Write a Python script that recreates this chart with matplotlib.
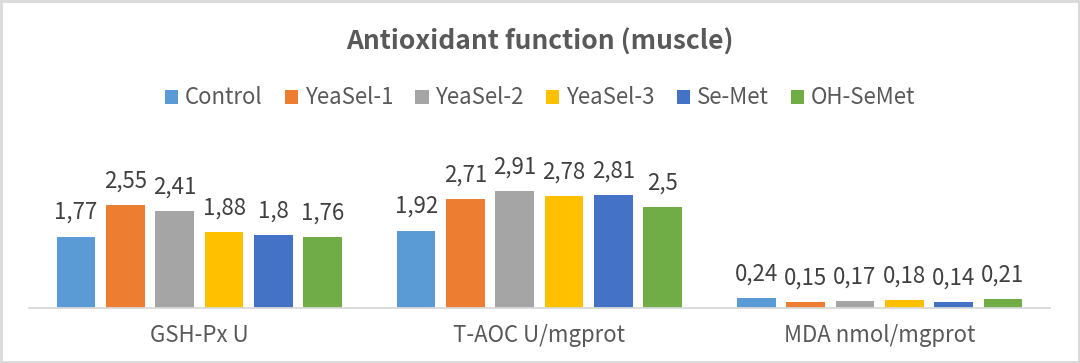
import matplotlib
matplotlib.use("Agg")
import matplotlib.pyplot as plt
from matplotlib.patches import Patch, Rectangle
import numpy as np

plt.rcParams['font.family'] = ['Noto Sans CJK SC', 'DejaVu Sans']

categories = ["GSH-Px U", "T-AOC U/mgprot", "MDA nmol/mgprot"]
groups = ["Control", "YeaSel-1", "YeaSel-2", "YeaSel-3", "Se-Met", "OH-SeMet"]
control = [1.77, 1.92, 0.24]
yeasel_1 = [2.55, 2.71, 0.15]
yeasel_2 = [2.41, 2.91, 0.17]
yeasel_3 = [1.88, 2.78, 0.18]
se_met = [1.80, 2.81, 0.14]
oh_semet = [1.76, 2.50, 0.21]
series = [control, yeasel_1, yeasel_2, yeasel_3, se_met, oh_semet]
colors = ["#5B9BD5", "#ED7D31", "#A5A5A5", "#FFC000", "#4472C4", "#70AD47"]

text_col = "#595959"
W, H = 1080, 363

fig = plt.figure(figsize=(W / 100, H / 100), dpi=100)
ax = fig.add_axes([29.3 / W, 1 - 307.7 / H, 1020.3 / W, (307.7 - 167) / H])

x = np.arange(len(categories))
step = 0.145
width = 0.1135
for i, (vals, c) in enumerate(zip(series, colors)):
    pos = x + (i - 2.5) * step
    bars = ax.bar(pos, vals, width=width, color=c, label=groups[i])
    ax.bar_label(bars, labels=[f"{v:g}".replace(".", ",") for v in vals],
                 padding=9, fontsize=16, color="#404040")

ax.set_xlim(-0.5, 2.5)
ax.set_ylim(0, 3.5)
ax.set_yticks([])
ax.set_xticks(x)
ax.set_xticklabels(categories, fontsize=16, color=text_col)
ax.tick_params(axis="x", length=0, pad=12)
for s in ["top", "right", "left"]:
    ax.spines[s].set_visible(False)
ax.spines["bottom"].set_color("#D9D9D9")
ax.spines["bottom"].set_linewidth(1.3)

fig.text(0.5, 1 - 50 / H, "Antioxidant function (muscle)", ha="center",
         va="baseline", fontsize=19, color=text_col, fontweight="bold")

handles = [Patch(facecolor=c, label=g) for c, g in zip(colors, groups)]
fig.legend(handles=handles, loc="center", bbox_to_anchor=(0.5, 1 - 98 / H),
           ncol=6, frameon=False, fontsize=16, labelcolor=text_col,
           handlelength=0.6, handleheight=0.6, handletextpad=0.3,
           columnspacing=1.0, borderaxespad=0)

fig.patches.append(Rectangle((0.001, 0.002), 0.998, 0.995, transform=fig.transFigure,
                             fill=False, edgecolor="#D9D9D9", linewidth=2))

fig.savefig("out.png", dpi=100)
